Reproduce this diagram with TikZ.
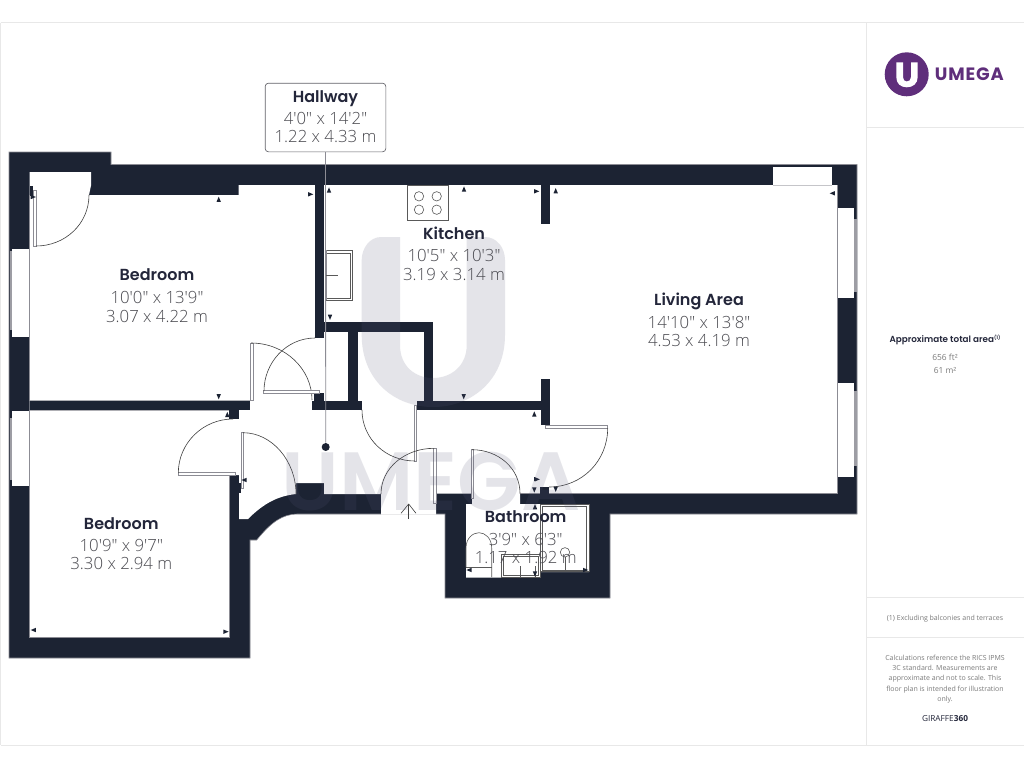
\documentclass[tikz,border=0pt]{standalone}
\usepackage{fontspec}
\setmainfont{Open Sans}[Ligatures=TeXOff]
\newfontfamily\dimfont{Open Sans Light}[Ligatures=TeXOff]
\newfontfamily\ttlfont{Poppins}[BoldFont={* SemiBold},Ligatures=TeXOff]
\newfontfamily\logofont{Poppins}[BoldFont={* Bold},LetterSpace=5]
\usetikzlibrary{calc}
\definecolor{wallc}{HTML}{1C2333}
\definecolor{edgec}{HTML}{8C8C94}
\definecolor{framec}{HTML}{E8E8E8}
\definecolor{dimc}{HTML}{4A4A50}
\definecolor{ttlc}{HTML}{23263A}
\definecolor{purp}{HTML}{5F2E7B}
\definecolor{graytxt}{HTML}{7A7A7A}
\definecolor{wmk}{HTML}{5A5A78}
\tikzset{
  wall/.style={fill=wallc,draw=none},
  roomfill/.style={fill=white,draw=none},
  roomedge/.style={draw=edgec,line width=0.5pt},
  glass/.style={fill=edgec!85!white,draw=none},
  leaf/.style={fill=white,draw=edgec,line width=0.5pt},
  swing/.style={draw=black!75,line width=0.45pt},
  fixture/.style={draw=black!65,line width=0.45pt},
  mk/.style={fill=wallc,draw=none},
  ttl/.style={anchor=base,inner sep=0,text=ttlc,font=\ttlfont\bfseries\fontsize{12}{14}\selectfont},
  dimt/.style={anchor=base,inner sep=0,text=dimc,font=\dimfont\fontsize{12.6}{14}\selectfont},
  paneltxt/.style={anchor=base,inner sep=0,text=graytxt,font=\fontsize{5.25}{7}\selectfont},
  areatxt/.style={anchor=base,inner sep=0,text=graytxt,font=\fontsize{6.3}{8}\selectfont},
  framel/.style={draw=framec,line width=0.75pt}
}
\newcommand{\rlabel}[7]{%
  \node[ttl] (#1t) at (#2,#3) {#5};
  \node[dimt] (#1a) at (#2,#4) {#6};
  \node[dimt] (#1b) at (#2,#4+18.8) {#7};
}
\newcommand{\tup}[2]{\fill[mk] (#1-2.2,#2+2.6) -- (#1+2.2,#2+2.6) -- (#1,#2-2.6) -- cycle;}
\newcommand{\tdn}[2]{\fill[mk] (#1-2.2,#2-2.6) -- (#1+2.2,#2-2.6) -- (#1,#2+2.6) -- cycle;}
\newcommand{\trt}[2]{\fill[mk] (#1-2.6,#2-2.2) -- (#1-2.6,#2+2.2) -- (#1+2.6,#2) -- cycle;}
\newcommand{\tlf}[2]{\fill[mk] (#1+2.6,#2-2.2) -- (#1+2.6,#2+2.2) -- (#1-2.6,#2) -- cycle;}
\begin{document}
\begin{tikzpicture}[x=0.75pt,y=-0.75pt]
\useasboundingbox (0,0) rectangle (1024,768);
\fill[white] (0,0) rectangle (1024,768);
% frame
\draw[framel] (0.5,22.5) -- (1024,22.5);
\draw[framel] (0.5,22.5) -- (0.5,745);
\draw[framel] (0.5,745) -- (1024,745);
\draw[framel] (866.5,22.5) -- (866.5,745);
\draw[framel] (866.5,127.5) -- (1024,127.5);
\draw[framel] (866.5,597.5) -- (1024,597.5);
\draw[framel] (866.5,637.5) -- (1024,637.5);

% outer silhouette
\path[wall,draw=edgec,line width=0.4pt] (9,152) -- (111,152) -- (111,164.5) -- (857,164.5) -- (857,514) -- (610,514) -- (610,598) -- (445,598) -- (445,514) -- (381,514)
  -- (296.7,514) .. controls (283,514.5) and (272,521) .. (256.7,540) -- (250,540) -- (250,658) -- (9,658) -- cycle;

% interior
\path[roomfill] (29.7,172) -- (91,172) -- (91,185.5) -- (89,195) -- (238.5,195) -- (238.5,185) -- (837,185) -- (837,493.5) -- (520,493.5) -- (520,504) -- (589,504) -- (589,572) -- (540,572) -- (540,577.5) -- (466,577.5) -- (466,504) -- (472,504) -- (472,493.5) -- (436,493.5) -- (436,514.5) -- (381,514.5) -- (381,494) -- (324,494) -- (324,483) -- (296,483) -- (296,494) .. controls (278,496) and (264,503) .. (248,519) -- (239,519) -- (239,475) -- (229,475) -- (229,637) -- (29.7,637) -- cycle;
\draw[roomedge] (837,185) -- (837,493.5) -- (520,493.5);
\draw[roomedge] (29.7,410) -- (29.7,637) -- (229,637) -- (229,475);
\draw[roomedge] (29.7,195) -- (29.7,400.7);

% interior walls
\fill[wall] (29.7,400.7) rectangle (250,410);
\fill[wall] (229,410) rectangle (239,419.3);
\fill[wall] (29.7,186) rectangle (33.3,196);
\fill[wall] (314.5,185) rectangle (324,338);
\fill[wall] (324,321.7) rectangle (433.3,331.7);
\fill[wall] (348.3,321.7) rectangle (357.7,401);
\fill[wall] (424,321.7) rectangle (433.3,401);
\fill[wall] (314,393) rectangle (324,401);
\fill[wall] (312.3,400.5) rectangle (361.7,410);
\fill[wall] (417,400.7) rectangle (550,410);
\fill[wall] (540.7,379) rectangle (550,425);
\fill[wall] (540.7,185) rectangle (550,224.3);
\fill[wall] (540,487.3) rectangle (549.3,494);
\fill[wall] (238.3,483) rectangle (241,493);
\draw[roomedge,draw=edgec!70] (29.7,400.7) -- (250,400.7);
\draw[roomedge,draw=edgec!70] (29.7,410) -- (229,410);

% windows
\fill[white] (12,249) rectangle (29.7,337.3);
\fill[glass] (10,251) rectangle (12,330);
\fill[white] (12,411) rectangle (29.7,486);
\fill[glass] (10,418) rectangle (12,480);
\fill[white] (836.7,208) rectangle (854,298);
\fill[glass] (854,219) rectangle (857,292);
\fill[white] (836.7,382.7) rectangle (854,476.7);
\fill[glass] (854,390.7) rectangle (857,466);
\fill[white] (773,167) rectangle (832,185);
\draw[roomedge,draw=edgec!50] (773,185) -- (832,185);
\draw[roomedge] (837,208) -- (837,298) (837,382.7) -- (837,476.7);
\draw[roomedge] (29.7,249) -- (29.7,337.3) (29.7,411) -- (29.7,486);

% doors
\path[leaf] (33.3,190.7) rectangle (36,246);
\draw[swing] (36,246) .. controls (65,246) and (89,224) .. (89,195);
\path[leaf] (250.3,343) rectangle (253.3,400);
\draw[swing] (251,343) .. controls (285,343) and (312,369) .. (312,400);
\path[leaf] (263.7,390) rectangle (319,393);
\draw[swing] (315,338) .. controls (286,338) and (264,363) .. (264,391);
\path[leaf] (178.3,472.5) rectangle (235,475);
\draw[swing] (233,419) .. controls (203,419) and (178.3,443) .. (178.3,473);
\path[leaf] (241,432.7) rectangle (243,488);
\draw[swing] (243,432.7) .. controls (272,432.7) and (296,461) .. (296,494);
\path[leaf] (414,405.7) rectangle (416.5,461);
\draw[swing] (362,410) .. controls (362,439) and (386,461) .. (415,461);
\path[leaf] (433.5,448.3) rectangle (436,503.3);
\draw[swing] (434,448.3) .. controls (405,448.3) and (381,468) .. (381,494);
\path[leaf] (545,425) rectangle (607.7,428);
\draw[swing] (607.7,428) .. controls (607.7,461) and (582,487) .. (549,487);
\path[leaf] (471.7,449.7) rectangle (473.3,498);
\draw[swing] (472,449.7) .. controls (498,449.7) and (520,468) .. (520,493.5);

% entrance arrow
\coordinate (arrowfoot) at (408.7,519);
\coordinate (arrowtip) at (408.7,504);
\draw[swing] (arrowfoot) -- (arrowtip);
\draw[swing] (401,513.3) -- (arrowtip) -- (416,513.3);

% kitchen fixtures
\draw[fixture] (407.3,185.7) rectangle (448.7,220.7);
\draw[fixture] (419,196.3) circle[radius=4.7];
\draw[fixture] (436.7,196.3) circle[radius=4.7];
\draw[fixture] (419,209.7) circle[radius=4.7];
\draw[fixture] (436.7,209.7) circle[radius=4.7];
\draw[fixture] (325,250.3) rectangle (352.7,300.3);
\draw[fixture] (326.7,253) rectangle (350.7,298);
\fill[edgec] (325,250.3) rectangle (326.7,300.3);
\draw[fixture] (326,275.3) -- (338,275.3);

% bathroom fixtures
\draw[fixture] (466,567.3) -- (466,548) .. controls (466,538) and (473,532.7) .. (479,532.7) .. controls (485,532.7) and (491.7,538) .. (491.7,548) -- (491.7,577);
\draw[fixture] (466,567.3) -- (491.7,567.3);
\draw[fixture] (501.7,554.3) rectangle (540,577);
\draw[fixture] (503.5,556.5) rectangle (538.5,575.5);
\draw[fixture] (520,566) -- (520,577);
\draw[fixture] (535,566) -- (535,577);
\draw[fixture] (540.7,504) rectangle (589,571.7);
\draw[fixture] (542.7,506) rectangle (586.7,570);
\draw[fixture] (565,552.3) circle[radius=4.7];
\draw[fixture] (565,557) -- (565,571);

% dimension marks
\tup{218.7}{199.3} \tdn{218.7}{396.7} \trt{310.7}{194.3} \trt{33.3}{197}
\tup{227.3}{414.5} \tlf{33.3}{630} \trt{226}{631.7} \tlf{244}{480}
\tup{464}{189} \tdn{463.7}{396.7} \tdn{330}{317.3} \trt{536.7}{191.3} \tup{555.7}{190.7} \tup{329}{190}
\tup{534.3}{414} \tdn{534.3}{490} \tdn{555.7}{489.3} \tup{535}{506.7} \tlf{469}{570} \tdn{535}{574} \trt{585.7}{570} \trt{537.3}{479.3} \tlf{832.3}{193.3}
\draw[line width=0.5pt,wallc] (534.3,477.3) -- (534.3,481.3);

% watermark
\begin{scope}[opacity=0.16]
\fill[wmk] (400,237) -- (400,345) .. controls (400,366) and (415,378) .. (433,378) .. controls (451,378) and (466.7,366) .. (466.7,345) -- (466.7,237) -- (485,237) .. controls (497,237) and (505,248) .. (505,260) -- (505,335) .. controls (505,380) and (472,407) .. (433,407) .. controls (394,407) and (361.7,380) .. (361.7,335) -- (361.7,260) .. controls (361.7,248) and (370,237) .. (381,237) -- cycle;
\node[anchor=base,inner sep=0,text=wmk,font=\ttlfont\bfseries\fontsize{62}{64}\selectfont] (wmtext) at (431,510) {UMEGA};
\end{scope}

% hallway callout
\node[draw=edgec!70!black,fill=white,rounded corners=2.5pt,line width=0.5pt,minimum width=90.5pt,minimum height=51.5pt,inner sep=0] (hallbox) at (325.5,117.5) {};
\node[circle,fill=wallc,minimum size=6pt,inner sep=0] (hdot) at (325.7,447) {};
\draw[draw=edgec,line width=0.6pt] (hallbox.south) -- (hdot);

% labels
\rlabel{hall}{325.5}{102}{124}{Hallway}{4'0" x 14'2"}{1.22 x 4.33 m}
\rlabel{bedA}{157}{280.7}{303.3}{Bedroom}{10'0" x 13'9"}{3.07 x 4.22 m}
\rlabel{kit}{454}{239.3}{261.7}{Kitchen}{10'5" x 10'3"}{3.19 x 3.14 m}
\rlabel{liv}{699}{305.7}{328}{Living Area}{14'10" x 13'8"}{4.53 x 4.19 m}
\rlabel{bedB}{121.3}{529}{551}{Bedroom}{10'9" x 9'7"}{3.30 x 2.94 m}
\rlabel{bath}{525.7}{522.7}{545}{Bathroom}{3'9" x 6'3"}{1.17 x 1.92 m}

% logo
\fill[purp] (906.7,74.3) circle[radius=22];
\fill[white] (896.3,62.3) -- (903,62.3) -- (903,77) .. controls (903,80) and (904.5,81.5) .. (906.8,81.5) .. controls (909,81.5) and (911,80) .. (911,77) -- (911,62.3) -- (917.7,62.3) -- (917.7,77) .. controls (917.7,83.5) and (913,87.3) .. (906.8,87.3) .. controls (900.5,87.3) and (896.3,83.5) .. (896.3,77) -- cycle;
\node[anchor=base,inner sep=0,text=purp,font=\logofont\bfseries\fontsize{13.4}{15}\selectfont] (logotext) at (969.3,80.7) {UMEGA};

% panel text
\node[anchor=base,inner sep=0,text=ttlc,font=\ttlfont\bfseries\fontsize{6.6}{8}\selectfont] (areatitle) at (945,342.5) {Approximate total area\raisebox{2.4pt}{\fontsize{3.6}{4}\selectfont (1)}};
\node[areatxt] (areaft) at (945,360) {656 ft²};
\node[areatxt] (aream) at (945,373.3) {61 m²};
\node[paneltxt] (excl) at (945,620) {(1) Excluding balconies and terraces};
\node[paneltxt] (calcA) at (945,660) {Calculations reference the RICS IPMS};
\node[paneltxt] (calcB) at (945,670.3) {3C standard. Measurements are};
\node[paneltxt] (calcC) at (945,680.7) {approximate and not to scale. This};
\node[paneltxt] (calcD) at (945,691) {floor plan is intended for illustration};
\node[paneltxt] (calcE) at (945,701.3) {only.};
\node[anchor=base,inner sep=0,text=ttlc,font=\fontsize{6.2}{8}\selectfont] (giraffe) at (945,721) {GIRAFFE\textbf{360}};
\end{tikzpicture}
\end{document}
